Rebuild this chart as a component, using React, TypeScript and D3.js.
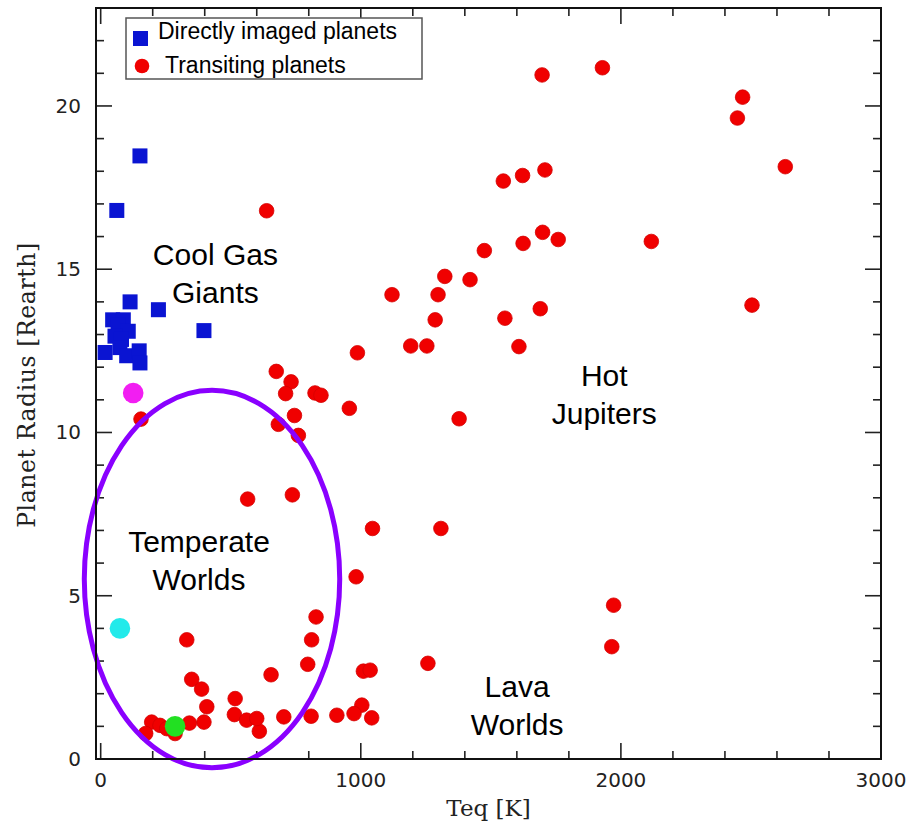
import * as d3 from 'd3';

// Teq [K], radius [R_earth]
const directTeq = [151, 62, 113, 222, 397, 46, 87, 67, 106, 55, 80, 17, 74, 100, 148, 151];
const directRadius = [18.47, 16.8, 14.0, 13.76, 13.12, 13.45, 13.45, 13.3, 13.1, 12.95, 12.85, 12.45, 12.6, 12.35, 12.5, 12.13];

const transitTeq = [
  1697, 1929, 2468, 2448, 2632, 1548, 1622, 1708, 638, 1624, 1699, 1759, 2117, 1475, 1323, 1420,
  1120, 1297, 1286, 1554, 1690, 2504, 1192, 1254, 1608, 987, 675, 732, 711, 824, 847, 956, 745,
  683, 760, 1378, 155, 737, 565, 1045, 1308, 982, 1972, 1965, 828, 811, 331, 796, 655, 1258, 1010,
  1036, 350, 388, 408, 517, 1004, 974, 1042, 908, 809, 704, 610, 514, 561, 600, 397, 341, 196,
  228, 173, 254, 286,
];
const transitRadius = [
  20.95, 21.17, 20.27, 19.63, 18.14, 17.7, 17.87, 18.04, 16.79, 15.79, 16.13, 15.91, 15.85, 15.57,
  14.78, 14.68, 14.22, 14.22, 13.45, 13.5, 13.79, 13.9, 12.65, 12.65, 12.63, 12.44, 11.87, 11.55,
  11.19, 11.21, 11.14, 10.74, 10.52, 10.25, 9.91, 10.42, 10.41, 8.09, 7.96, 7.06, 7.06, 5.58, 4.71,
  3.44, 4.35, 3.65, 3.65, 2.9, 2.58, 2.93, 2.69, 2.72, 2.44, 2.14, 1.6, 1.85, 1.65, 1.39, 1.26,
  1.34, 1.31, 1.29, 0.85, 1.36, 1.19, 1.24, 1.13, 1.1, 1.13, 1.03, 0.78, 0.93, 0.78,
];

// highlighted planets
const specialTeq = [125, 74, 286];
const specialRadius = [11.21, 4.0, 1.0];
const specialColors = ['#f21ef2', '#22eaea', '#22e022'];

const xMajorTicks = [0, 1000, 2000, 3000];
const yMajorTicks = [0, 5, 10, 15, 20];

const regionNames = [['Cool Gas', 'Giants'], ['Temperate', 'Worlds'], ['Hot', 'Jupiters'], ['Lava', 'Worlds']];
const regionTeq = [441, 378, 1936, 1601];
const regionRadius = [15.14, 6.35, 11.41, 1.89];

// temperate zone ellipse (centre and half-axes in data units)
const zoneCenter = [428, 5.51];
const zoneHalfAxes = [491, 5.78];

export default function App() {
  const width = 912;
  const height = 825;
  const left = 96;
  const right = 881;
  const top = 8;
  const bottom = 759;

  const x = d3.scaleLinear().domain([-18, 3000]).range([left, right]);
  const y = d3.scaleLinear().domain([0, 23]).range([bottom, top]);

  const xMinor = d3.range(0, 3001, 200);
  const yMinor = d3.range(0, 23.01, 1);

  const tickFont = '"DejaVu Sans", sans-serif';
  const titleFont = '"DejaVu Serif", serif';
  const labelFont = '"Liberation Sans", Arial, sans-serif';

  const major = 16;
  const minor = 8;

  return (
    <svg width={width} height={height} style={{ position: 'absolute', left: 0, top: 0, background: '#fff' }}>
      {/* ticks on all four sides */}
      <g stroke="#222" strokeWidth={1.6}>
        {xMinor.map((t) => {
          const len = xMajorTicks.includes(t) ? major : minor;
          return (
            <g key={'x' + t}>
              <line x1={x(t)} x2={x(t)} y1={bottom} y2={bottom - len} />
              <line x1={x(t)} x2={x(t)} y1={top} y2={top + len} />
            </g>
          );
        })}
        {yMinor.map((t) => {
          const len = yMajorTicks.includes(t) ? major : minor;
          return (
            <g key={'y' + t}>
              <line x1={left} x2={left + len} y1={y(t)} y2={y(t)} />
              <line x1={right} x2={right - len} y1={y(t)} y2={y(t)} />
            </g>
          );
        })}
      </g>

      {/* tick labels */}
      <g fontFamily={tickFont} fontSize={20} fill="#222">
        {xMajorTicks.map((t) => (
          <text key={'xl' + t} x={x(t)} y={bottom + 28} textAnchor="middle">
            {t}
          </text>
        ))}
        {yMajorTicks.map((t) => (
          <text key={'yl' + t} x={left - 15} y={y(t) + 7} textAnchor="end">
            {t}
          </text>
        ))}
      </g>

      {/* axis titles */}
      <text x={(left + right) / 2} y={bottom + 57} textAnchor="middle" fontFamily={titleFont} fontSize={23} fill="#222">
        Teq [K]
      </text>
      <text
        transform={`translate(35,385) rotate(-90)`}
        textAnchor="middle"
        fontFamily={titleFont}
        fontSize={23.5}
        letterSpacing={0.6}
        fill="#222"
      >
        Planet Radius [Rearth]
      </text>

      {/* transiting planets */}
      <g fill="#f00000" stroke="#d40000" strokeWidth={0.8}>
        {transitTeq.map((t, i) => (
          <circle key={'t' + i} cx={x(t)} cy={y(transitRadius[i])} r={7.3} />
        ))}
      </g>

      {/* directly imaged planets */}
      <g fill="#0a14d2">
        {directTeq.map((t, i) => (
          <rect key={'d' + i} x={x(t) - 7.5} y={y(directRadius[i]) - 7.5} width={15} height={15} />
        ))}
      </g>

      {/* highlighted planets */}
      {specialTeq.map((t, i) => (
        <circle key={'s' + i} cx={x(t)} cy={y(specialRadius[i])} r={10.3} fill={specialColors[i]} />
      ))}

      {/* temperate zone */}
      <ellipse
        cx={x(zoneCenter[0])}
        cy={y(zoneCenter[1])}
        rx={x(zoneCenter[0] + zoneHalfAxes[0]) - x(zoneCenter[0])}
        ry={y(zoneCenter[1] - zoneHalfAxes[1]) - y(zoneCenter[1])}
        fill="none"
        stroke="#8a00ff"
        strokeWidth={5}
      />

      {/* region labels */}
      <g fontFamily={labelFont} fontSize={30} fill="#000" textAnchor="middle">
        {regionNames.map((lines, i) => (
          <text key={'r' + i} x={x(regionTeq[i])} y={y(regionRadius[i])}>
            {lines.map((line, j) => (
              <tspan key={j} x={x(regionTeq[i])} dy={j === 0 ? 0 : 38}>
                {line}
              </tspan>
            ))}
          </text>
        ))}
      </g>

      {/* frame */}
      <rect x={left} y={top} width={right - left} height={bottom - top} fill="none" stroke="#111" strokeWidth={2} />

      {/* legend */}
      <rect x={126} y={18} width={296} height={61} fill="#fff" stroke="#555" strokeWidth={1.5} />
      <rect x={133} y={31} width={15} height={15} fill="#0a14d2" />
      <circle cx={142} cy={66} r={7.3} fill="#f00000" />
      <g fontFamily={labelFont} fontSize={23} fill="#000">
        <text x={158} y={39}>Directly imaged planets</text>
        <text x={165} y={73}>Transiting planets</text>
      </g>
    </svg>
  );
}
